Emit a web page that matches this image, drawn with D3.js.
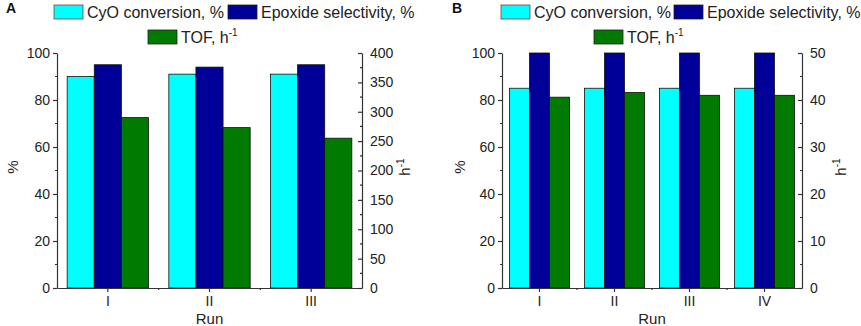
<!DOCTYPE html>
<html lang="en">
<head>
<meta charset="utf-8">
<title>Catalyst reuse runs</title>
<script src="https://d3js.org/d3.v7.min.js"></script>
<style>
  body { margin: 0; background: #fff; }
  svg { font-family: "Liberation Sans", Arial, sans-serif; }
</style>
</head>
<body>
<svg width="861" height="326"></svg>
<script>
// panel A values
var runsA = ["I", "II", "III"];
var convA = [90, 91, 91];
var selA  = [95, 94, 95];
var tofA  = [290, 273, 255];
var tofTicksA = [0, 50, 100, 150, 200, 250, 300, 350, 400];

// panel B values
var runsB = ["I", "II", "III", "IV"];
var convB = [85, 85, 85, 85];
var selB  = [100, 100, 100, 100];
var tofB  = [40.6, 41.6, 41, 41];
var tofTicksB = [0, 10, 20, 30, 40, 50];

var pctTicks = [0, 20, 40, 60, 80, 100];
var seriesNames = ["conv", "sel", "tof"];
var colors = { conv: "#00ffff", sel: "#000099", tof: "#007a00" };

var svg = d3.select("svg");

function drawPanel(p) {
  var g = svg.append("g");
  var y = d3.scaleLinear().domain([0, 100]).range([288, 53]);
  var y2 = d3.scaleLinear().domain([0, p.tofMax]).range([288, 53]);
  var x = d3.scaleBand().domain(p.runs).range([p.left, p.right])
      .paddingInner(0.2).paddingOuter(0.1);
  var xs = d3.scaleBand().domain(seriesNames).range([0, x.bandwidth()]);

  var rows = p.runs.map(function(r, i) {
    return { run: r, conv: p.conv[i], sel: p.sel[i], tof: p.tof[i] };
  });

  var grp = g.selectAll(".grp").data(rows).enter().append("g")
      .attr("transform", function(d) { return "translate(" + x(d.run) + ",0)"; });
  grp.selectAll("rect")
    .data(function(d) { return seriesNames.map(function(k) { return { k: k, v: d[k] }; }); })
    .enter().append("rect")
      .attr("x", function(d) { return xs(d.k); })
      .attr("width", xs.bandwidth())
      .attr("y", function(d) { return d.k == "tof" ? y2(d.v) : y(d.v); })
      .attr("height", function(d) { return 288 - (d.k == "tof" ? y2(d.v) : y(d.v)); })
      .attr("fill", function(d) { return colors[d.k]; })
      .attr("stroke", "#111")
      .attr("stroke-width", 0.8);

  // left axis
  var yAx = d3.axisLeft(y).tickValues(pctTicks).tickSize(4).tickPadding(3).tickSizeOuter(0);
  var gl = g.append("g").attr("transform", "translate(" + p.left + ",0)").call(yAx);
  gl.selectAll(".minor").data([10, 30, 50, 70, 90]).enter().append("line")
      .attr("x1", -2).attr("x2", 0).attr("y1", y).attr("y2", y);

  // right axis, ticks pointing inward
  var yAx2 = d3.axisRight(y2).tickValues(p.tofTicks).tickSize(-4).tickPadding(8).tickSizeOuter(0);
  var gr = g.append("g").attr("transform", "translate(" + p.right + ",0)").call(yAx2);
  var mt = p.tofTicks.slice(1).map(function(t) { return t - p.tofTicks[1] / 2; });
  gr.selectAll(".minor").data(mt).enter().append("line")
      .attr("x1", -2).attr("x2", 0).attr("y1", y2).attr("y2", y2);

  // bottom axis
  var xAx = d3.axisBottom(x).tickSize(4).tickPadding(4).tickSizeOuter(0);
  var gb = g.append("g").attr("transform", "translate(0,288)").call(xAx);
  var bounds = p.runs.slice(1).map(function(r) { return x(r) - x.step() * 0.1; });
  gb.selectAll(".minor").data(bounds).enter().append("line")
      .attr("x1", function(d) { return d; }).attr("x2", function(d) { return d; })
      .attr("y1", 0).attr("y2", 2);

  [gl, gr, gb].forEach(function(a) {
    a.selectAll("path.domain").attr("stroke", "#333").attr("stroke-width", 1.2);
    a.selectAll("line").attr("stroke", "#333").attr("stroke-width", 1.2);
    a.selectAll("text").attr("font-size", 14).attr("fill", "#222")
      .attr("font-family", "Liberation Sans, Arial, sans-serif");
  });

  // axis titles
  g.append("text").attr("transform", "translate(" + p.pctX + ",167) rotate(-90)")
      .attr("text-anchor", "middle").attr("font-size", 15).attr("fill", "#222").text("%");
  var ht = g.append("text").attr("transform", "translate(" + p.hX + ",167) rotate(-90)")
      .attr("text-anchor", "middle").attr("font-size", 15).attr("fill", "#222");
  ht.append("tspan").text("h");
  ht.append("tspan").attr("dy", -6).attr("font-size", 10).text("-1");
  g.append("text").attr("x", (p.left + p.right) / 2).attr("y", 324)
      .attr("text-anchor", "middle").attr("font-size", 15).attr("fill", "#222").text("Run");

  // panel letter
  g.append("text").attr("x", p.letterX).attr("y", 13).attr("font-size", 14)
      .attr("font-weight", "bold").attr("fill", "#111").text(p.letter);

  // legend
  var leg = [
    { k: "conv", x: p.legX[0], y: 5, label: "CyO conversion, %" },
    { k: "sel", x: p.legX[1], y: 5, label: "Epoxide selectivity, %" },
    { k: "tof", x: p.legX[2], y: 30, label: "TOF, h" }
  ];
  leg.forEach(function(l) {
    g.append("rect").attr("x", l.x).attr("y", l.y).attr("width", 29).attr("height", 14)
        .attr("fill", colors[l.k]).attr("stroke", l.k == "conv" ? "#7a4040" : "#222")
        .attr("stroke-width", 0.8);
    var t = g.append("text").attr("x", l.x + 33).attr("y", l.y + 13)
        .attr("font-size", 16).attr("fill", "#222").text(l.label);
    if (l.k == "tof") t.append("tspan").attr("dy", -7).attr("font-size", 10).text("-1");
  });
}

drawPanel({ letter: "A", letterX: 6, left: 57, right: 362, runs: runsA,
  conv: convA, sel: selA, tof: tofA, tofMax: 400, tofTicks: tofTicksA,
  pctX: 18, hX: 410, legX: [54, 228, 148] });
drawPanel({ letter: "B", letterX: 452, left: 502, right: 802, runs: runsB,
  conv: convB, sel: selB, tof: tofB, tofMax: 50, tofTicks: tofTicksB,
  pctX: 465, hX: 846, legX: [501, 674, 594] });
</script>
</body>
</html>
